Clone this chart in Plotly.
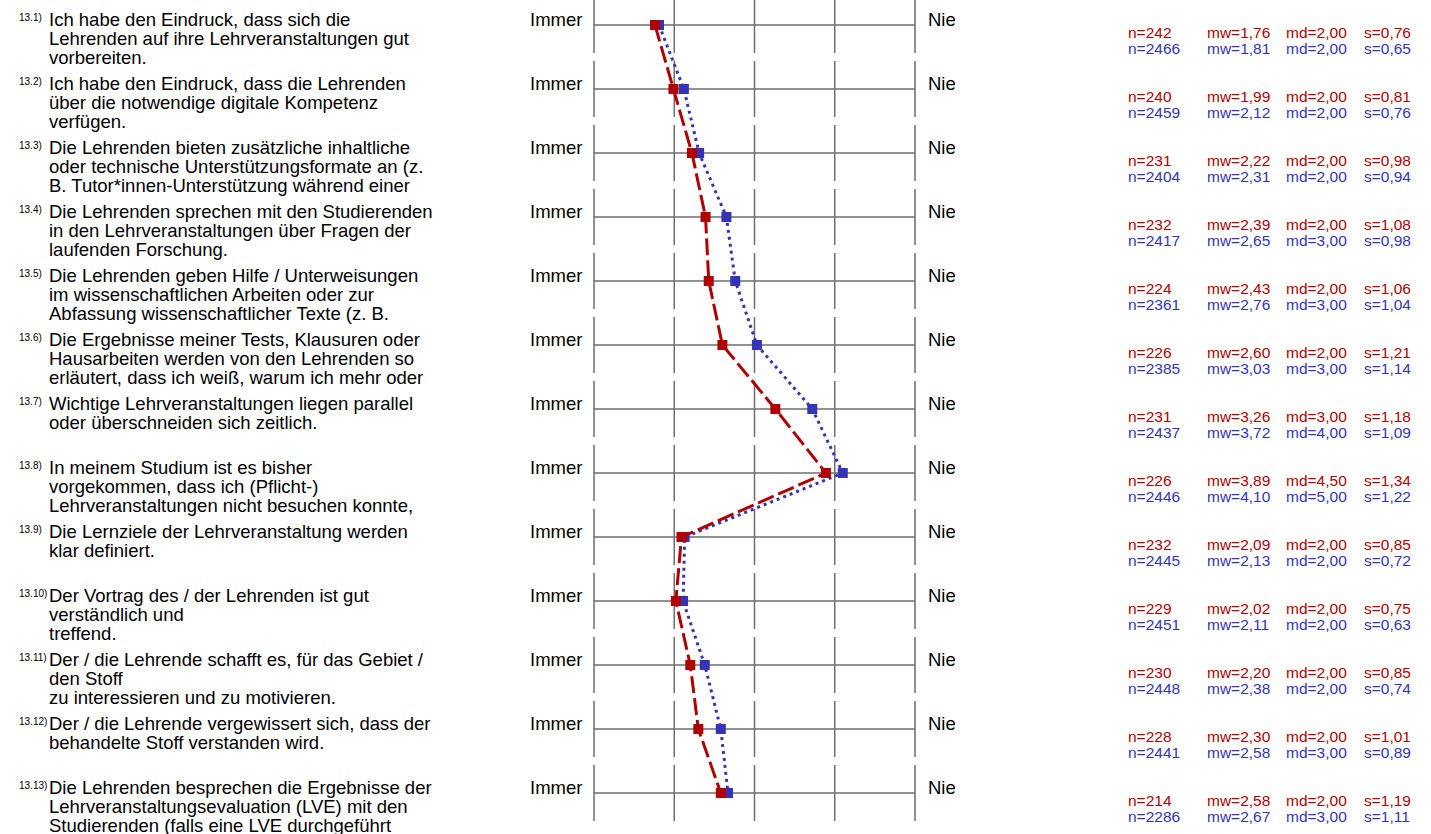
import plotly.graph_objects as go

# ---------------- data ----------------
item_numbers = ["13.1)", "13.2)", "13.3)", "13.4)", "13.5)", "13.6)", "13.7)",
                "13.8)", "13.9)", "13.10)", "13.11)", "13.12)", "13.13)"]

questions = [
    ["Ich habe den Eindruck, dass sich die", "Lehrenden auf ihre Lehrveranstaltungen gut", "vorbereiten."],
    ["Ich habe den Eindruck, dass die Lehrenden", "über die notwendige digitale Kompetenz", "verfügen."],
    ["Die Lehrenden bieten zusätzliche inhaltliche", "oder technische Unterstützungsformate an (z.", "B. Tutor*innen-Unterstützung während einer"],
    ["Die Lehrenden sprechen mit den Studierenden", "in den Lehrveranstaltungen über Fragen der", "laufenden Forschung."],
    ["Die Lehrenden geben Hilfe / Unterweisungen", "im wissenschaftlichen Arbeiten oder zur", "Abfassung wissenschaftlicher Texte (z. B."],
    ["Die Ergebnisse meiner Tests, Klausuren oder", "Hausarbeiten werden von den Lehrenden so", "erläutert, dass ich weiß, warum ich mehr oder"],
    ["Wichtige Lehrveranstaltungen liegen parallel", "oder überschneiden sich zeitlich."],
    ["In meinem Studium ist es bisher", "vorgekommen, dass ich (Pflicht-)", "Lehrveranstaltungen nicht besuchen konnte,"],
    ["Die Lernziele der Lehrveranstaltung werden", "klar definiert."],
    ["Der Vortrag des / der Lehrenden ist gut", "verständlich und", "treffend."],
    ["Der / die Lehrende schafft es, für das Gebiet /", "den Stoff", "zu interessieren und zu motivieren."],
    ["Der / die Lehrende vergewissert sich, dass der", "behandelte Stoff verstanden wird."],
    ["Die Lehrenden besprechen die Ergebnisse der", "Lehrveranstaltungsevaluation (LVE) mit den", "Studierenden (falls eine LVE durchgeführt"],
]

left_label = "Immer"
right_label = "Nie"
scale_values = [1, 2, 3, 4, 5]

red_n = [242, 240, 231, 232, 224, 226, 231, 226, 232, 229, 230, 228, 214]
red_mw = [1.76, 1.99, 2.22, 2.39, 2.43, 2.60, 3.26, 3.89, 2.09, 2.02, 2.20, 2.30, 2.58]
red_md = [2.00, 2.00, 2.00, 2.00, 2.00, 2.00, 3.00, 4.50, 2.00, 2.00, 2.00, 2.00, 2.00]
red_s = [0.76, 0.81, 0.98, 1.08, 1.06, 1.21, 1.18, 1.34, 0.85, 0.75, 0.85, 1.01, 1.19]

blue_n = [2466, 2459, 2404, 2417, 2361, 2385, 2437, 2446, 2445, 2451, 2448, 2441, 2286]
blue_mw = [1.81, 2.12, 2.31, 2.65, 2.76, 3.03, 3.72, 4.10, 2.13, 2.11, 2.38, 2.58, 2.67]
blue_md = [2.00, 2.00, 2.00, 3.00, 3.00, 3.00, 4.00, 5.00, 2.00, 2.00, 2.00, 3.00, 3.00]
blue_s = [0.65, 0.76, 0.94, 0.98, 1.04, 1.14, 1.09, 1.22, 0.72, 0.63, 0.74, 0.89, 1.11]

# ---------------- layout constants ----------------
W, H = 1431, 834
ROW0, ROWH = 25.0, 64.0          # pixel centre of first row, row pitch
X1PX, X5PX = 594.0, 915.0        # pixel position of scale value 1 and 5
PXU = (X5PX - X1PX) / 4.0
XMIN, XMAX = 0.9, 5.1

RED = "#b00000"
BLUE = "#3434b4"
GRID = "#6e6e6e"
FONT = "Liberation Sans, Arial, sans-serif"

rows = list(range(len(item_numbers)))


def py(px):
    """pixel y offset -> row units"""
    return px / ROWH


fig = go.Figure()

# profile lines
fig.add_trace(go.Scatter(
    x=blue_mw, y=rows, mode="lines+markers",
    line=dict(color=BLUE, width=3, dash="3px,4px"),
    marker=dict(symbol="square", size=10, color=BLUE),
    hoverinfo="skip"))
fig.add_trace(go.Scatter(
    x=red_mw, y=rows, mode="lines+markers",
    line=dict(color=RED, width=3, dash="17px,5px"),
    marker=dict(symbol="square", size=10, color=RED),
    hoverinfo="skip"))

shapes = []
annotations = []
for i in rows:
    # horizontal scale line
    shapes.append(dict(type="line", xref="x", yref="y", x0=scale_values[0], x1=scale_values[-1],
                       y0=i, y1=i, line=dict(color=GRID, width=1.5), layer="below"))
    for v in scale_values:
        shapes.append(dict(type="line", xref="x", yref="y", x0=v, x1=v,
                           y0=i - py(28), y1=i + py(28), line=dict(color=GRID, width=1.5), layer="below"))

    # scale end labels
    annotations.append(dict(xref="paper", yref="y", x=582 / W, y=i + py(-6), text=left_label,
                            xanchor="right", yanchor="middle", showarrow=False,
                            font=dict(family=FONT, size=18.5, color="#000"), borderpad=0, borderwidth=0))
    annotations.append(dict(xref="paper", yref="y", x=928 / W, y=i + py(-6), text=right_label,
                            xanchor="left", yanchor="middle", showarrow=False,
                            font=dict(family=FONT, size=18.5, color="#000"), borderpad=0, borderwidth=0))

    # item number
    annotations.append(dict(xref="paper", yref="y", x=19 / W, y=i + py(-7.5), text=item_numbers[i],
                            xanchor="left", yanchor="middle", showarrow=False,
                            font=dict(family=FONT, size=10, color="#000"), borderpad=0, borderwidth=0))
    # question text lines
    for j, line in enumerate(questions[i]):
        annotations.append(dict(xref="paper", yref="y", x=49 / W, y=i + py(-5.5 + 19 * j), text=line,
                                xanchor="left", yanchor="middle", showarrow=False,
                                font=dict(family=FONT, size=18.5, color="#000"), borderpad=0, borderwidth=0))

    # statistics
    for col_x, rv, bv in [
        (1128, "n=%d" % red_n[i], "n=%d" % blue_n[i]),
        (1207, "mw=" + ("%.2f" % red_mw[i]).replace(".", ","), "mw=" + ("%.2f" % blue_mw[i]).replace(".", ",")),
        (1286, "md=" + ("%.2f" % red_md[i]).replace(".", ","), "md=" + ("%.2f" % blue_md[i]).replace(".", ",")),
        (1364, "s=" + ("%.2f" % red_s[i]).replace(".", ","), "s=" + ("%.2f" % blue_s[i]).replace(".", ",")),
    ]:
        annotations.append(dict(xref="paper", yref="y", x=col_x / W, y=i + py(7), text=rv,
                                xanchor="left", yanchor="middle", showarrow=False,
                                font=dict(family=FONT, size=15.5, color=RED), borderpad=0, borderwidth=0))
        annotations.append(dict(xref="paper", yref="y", x=col_x / W, y=i + py(23), text=bv,
                                xanchor="left", yanchor="middle", showarrow=False,
                                font=dict(family=FONT, size=15.5, color=BLUE), borderpad=0, borderwidth=0))

x_lo_px = X1PX + (XMIN - 1) * PXU
x_hi_px = X1PX + (XMAX - 1) * PXU

fig.update_layout(
    width=W, height=H,
    margin=dict(l=0, r=0, t=0, b=0),
    paper_bgcolor="white", plot_bgcolor="white",
    showlegend=False,
    xaxis=dict(domain=[x_lo_px / W, x_hi_px / W], range=[XMIN, XMAX], visible=False, fixedrange=True),
    yaxis=dict(domain=[0, 1], range=[(H - ROW0) / ROWH, -ROW0 / ROWH], visible=False, fixedrange=True),
    shapes=shapes,
    annotations=annotations,
)

fig.write_html("out.html", config={"displayModeBar": False},
               post_script="document.body.style.margin='0';document.body.style.padding='0';")
